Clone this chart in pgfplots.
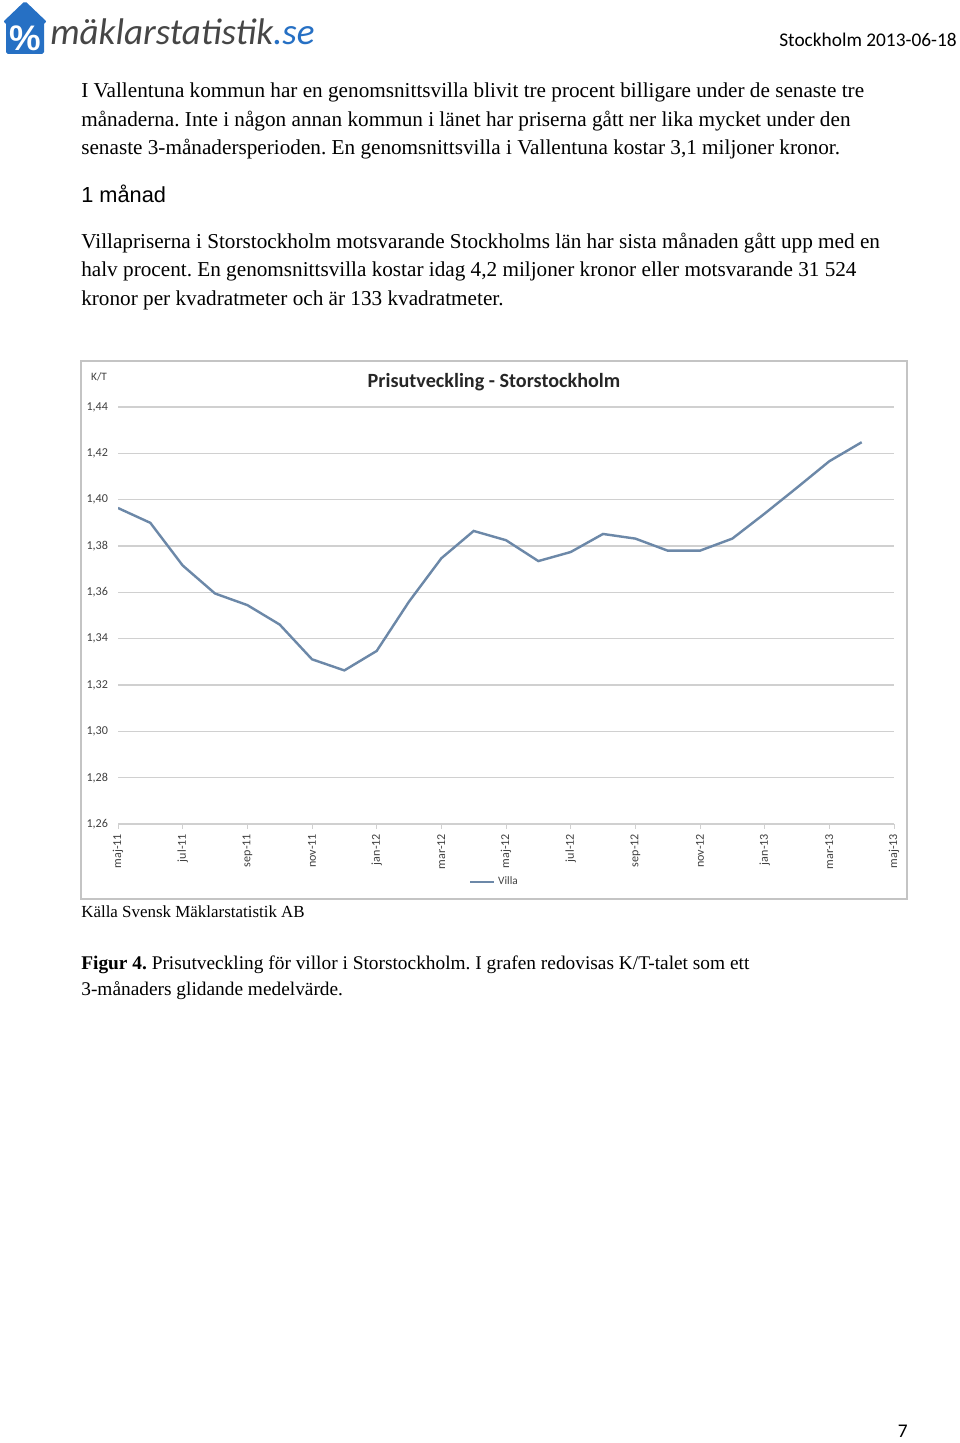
\documentclass[border=0pt]{standalone}
\usepackage{fontspec}
\setmainfont{Liberation Serif}
\newfontfamily\calibri{Carlito}
\newfontfamily\arial{Liberation Sans}
\usepackage{pgfplots}
\pgfplotsset{compat=1.18}
\definecolor{villa}{RGB}{108,136,168}
\definecolor{gridc}{RGB}{208,208,208}
\definecolor{framec}{RGB}{196,196,196}
\definecolor{logoblue}{RGB}{38,112,196}
\definecolor{logogray}{RGB}{70,70,70}
\definecolor{ticktext}{RGB}{64,64,64}
\newcommand\body{\fontsize{13.15}{15}\selectfont}
\frenchspacing
\begin{document}
\frenchspacing
\begin{tikzpicture}
\begin{scope}[x=0.62pt,y=-0.62pt]
\path[use as bounding box, fill=white] (0,0) rectangle (960,1443);
% logo
\fill[logoblue, rounded corners=1.2pt] (25,1) -- (47,22) -- (44,22) -- (44,54) -- (6,54) -- (6,22) -- (3,22) -- cycle;
\node[white, font=\arial\bfseries\fontsize{22}{22}\selectfont, inner sep=0] at (25,38) {\%};
\node[anchor=base west, inner sep=0, font=\calibri\itshape\fontsize{23}{23}\selectfont] at (50,45) {\textcolor{logogray}{mäklarstatistik}\textcolor{logoblue}{.se}};
\node[anchor=base east, inner sep=0, font=\calibri\fontsize{12}{12}\selectfont] at (957,47) {Stockholm 2013-06-18};
% body text
\node[anchor=base west, inner sep=0, font=\body] at (81,98) {I Vallentuna kommun har en genomsnittsvilla blivit tre procent billigare under de senaste tre};
\node[anchor=base west, inner sep=0, font=\body] at (81,126) {månaderna. Inte i någon annan kommun i länet har priserna gått ner lika mycket under den};
\node[anchor=base west, inner sep=0, font=\body] at (81,155) {senaste 3-månadersperioden. En genomsnittsvilla i Vallentuna kostar 3,1 miljoner kronor.};
\node[anchor=base west, inner sep=0, font=\arial\fontsize{13.5}{15}\selectfont] at (81,202) {1 månad};
\node[anchor=base west, inner sep=0, font=\body] at (81,248) {Villapriserna i Storstockholm motsvarande Stockholms län har sista månaden gått upp med en};
\node[anchor=base west, inner sep=0, font=\body] at (81,276) {halv procent. En genomsnittsvilla kostar idag 4,2 miljoner kronor eller motsvarande 31 524};
\node[anchor=base west, inner sep=0, font=\body] at (81,305) {kronor per kvadratmeter och är 133 kvadratmeter.};
% chart frame and texts
\draw[framec, line width=0.7pt] (81,361) rectangle (907,899);
\node[font=\calibri\bfseries\fontsize{12.5}{14}\selectfont, inner sep=0, text=black!85] at (494,382) {Prisutveckling - Storstockholm};
\node[font=\calibri\fontsize{7}{7}\selectfont, inner sep=0, text=ticktext] at (99,377) {K/T};
\node[anchor=base west, inner sep=0, font=\fontsize{10.5}{12}\selectfont] at (81,917) {Källa Svensk Mäklarstatistik AB};
\node[anchor=base west, inner sep=0, font=\fontsize{12}{14}\selectfont] at (81,969) {\textbf{Figur 4.} Prisutveckling för villor i Storstockholm. I grafen redovisas K/T-talet som ett};
\node[anchor=base west, inner sep=0, font=\fontsize{12}{14}\selectfont] at (81,995) {3-månaders glidande medelvärde.};
\node[anchor=base east, inner sep=0, font=\calibri\fontsize{12}{12}\selectfont] at (908,1437) {7};
\end{scope}
\begin{axis}[
  at={(73.16pt,-510.88pt)}, anchor=south west, scale only axis,
  width=481.12pt, height=258.54pt,
  xmin=0, xmax=24, ymin=1.26, ymax=1.44,
  axis line style={draw=none},
  xtick={0,2,...,24},
  xticklabels={maj-11,jul-11,sep-11,nov-11,jan-12,mar-12,maj-12,jul-12,sep-12,nov-12,jan-13,mar-13,maj-13},
  xtick pos=bottom, tick align=outside, major tick length=3pt,
  xtick style={gridc, line width=0.6pt},
  ytick={1.26,1.28,1.30,1.32,1.34,1.36,1.38,1.40,1.42,1.44},
  ytick style={draw=none},
  ymajorgrids, major grid style={gridc, line width=0.8pt},
  /pgf/number format/assume math mode=true,
  yticklabel style={/pgf/number format/.cd, use comma, fixed, fixed zerofill, precision=2, /tikz/.cd,
     font=\calibri\fontsize{7.5}{7.5}\selectfont, text=ticktext, inner sep=0pt},
  yticklabel shift=3pt,
  xticklabel style={rotate=90, anchor=east, font=\calibri\fontsize{7.5}{7.5}\selectfont, text=ticktext, inner sep=0pt},
  xticklabel shift=3pt,
  legend style={at={(0.486,-0.139)}, anchor=center, draw=none, fill=none,
     font=\calibri\fontsize{7}{7}\selectfont, text=ticktext, inner sep=0pt},
  legend image code/.code={\draw[#1] (0pt,0pt) -- (14.5pt,0pt);},
]
\addplot[villa, line width=1.5pt] coordinates {
(0,1.3964) (1,1.3900) (2,1.3716) (3,1.3595) (4,1.3545) (5,1.3461)
(6,1.3311) (7,1.3263) (8,1.3347) (9,1.3560) (10,1.3747) (11,1.3865)
(12,1.3825) (13,1.3735) (14,1.3774) (15,1.3852) (16,1.3832) (17,1.3780)
(18,1.3780) (19,1.3832) (20,1.3940) (21,1.4052) (22,1.4166) (23,1.4248)
};
\addlegendentry{Villa}
\end{axis}
\end{tikzpicture}
\end{document}
